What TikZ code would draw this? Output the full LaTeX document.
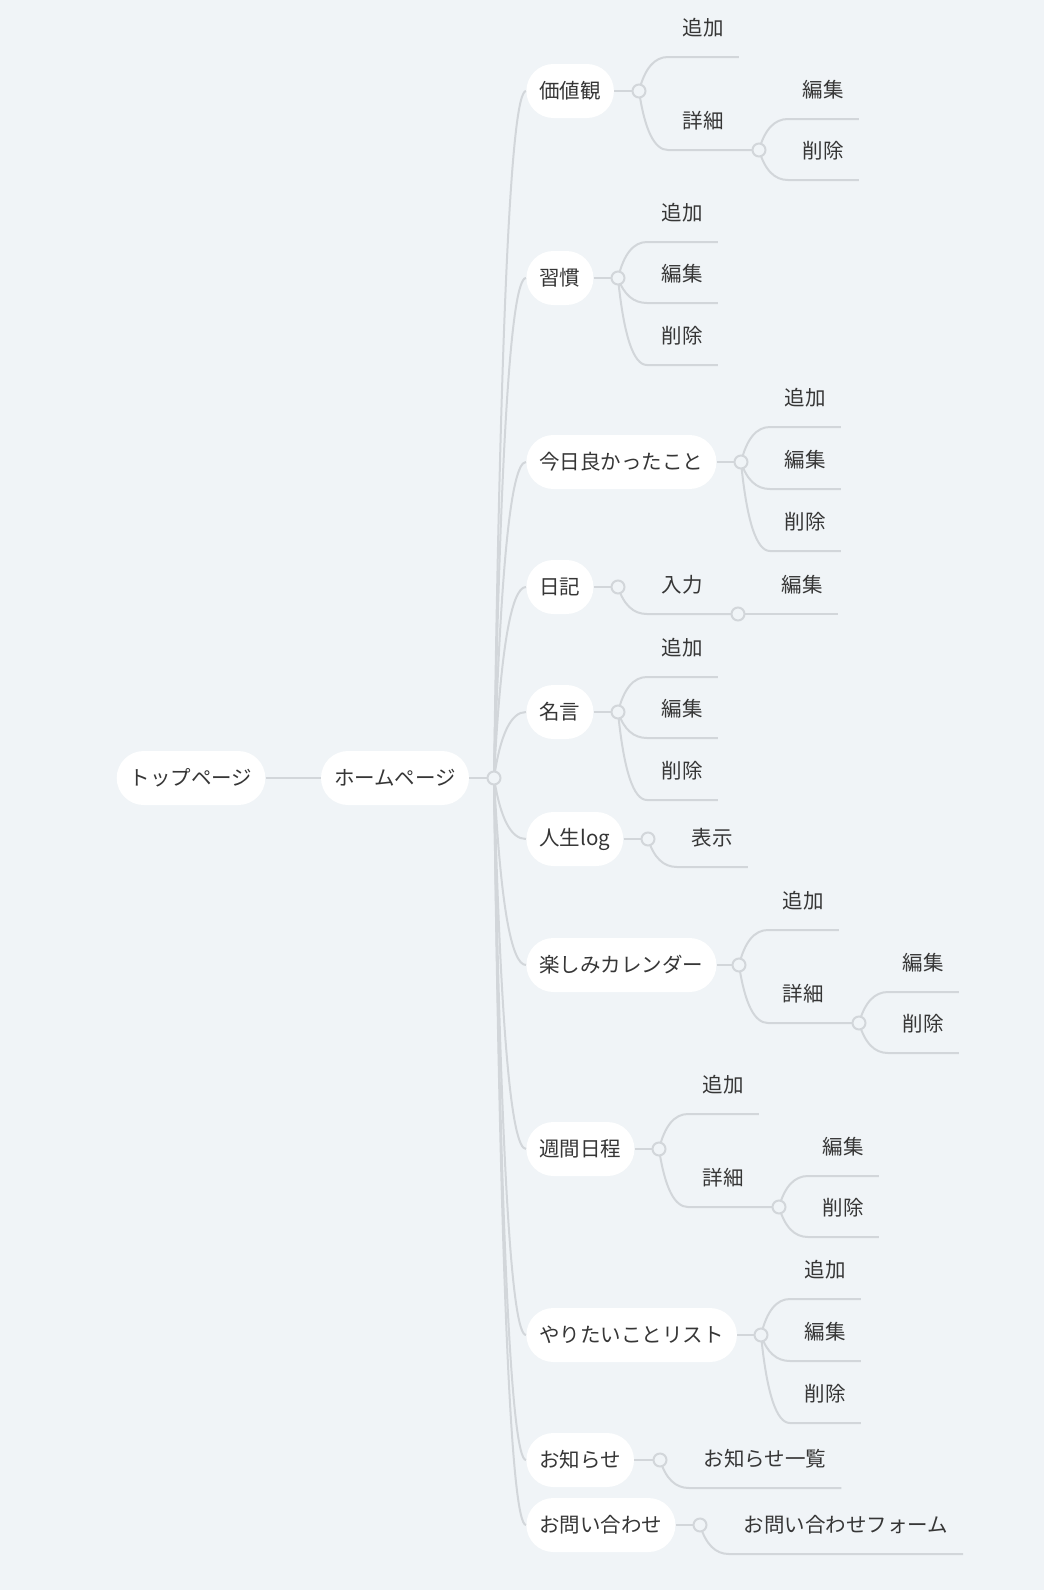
\documentclass[tikz,border=0pt]{standalone}
\usepackage{fontspec}
\setmainfont{Noto Sans CJK JP}
\usetikzlibrary{calc}
\definecolor{bgcolor}{HTML}{F0F4F7}
\definecolor{linecolor}{HTML}{D2D6DA}
\definecolor{textcolor}{HTML}{363636}

\begin{document}
\begin{tikzpicture}[x=0.5pt, y=-0.5pt, font=\fontsize{10.25pt}{12pt}\selectfont, text=textcolor]
  \tikzstyle{topic}=[fill=white, rounded corners=13.5pt, minimum height=27pt, inner xsep=6.5pt, inner ysep=0pt]
  \tikzstyle{leaf}=[minimum height=28.5pt, minimum width=35pt, inner xsep=7.25pt, inner ysep=0pt, anchor=south west]
  \tikzstyle{hub}=[circle, draw=linecolor, fill=bgcolor, line width=1pt, minimum size=6.5pt, inner sep=0pt]
  \tikzstyle{link}=[draw=linecolor, line width=1pt]
  \tikzstyle{branch}=[to path={let \p1=(\tikztostart), \p2=(\tikztotarget) in
      .. controls ({\x1+0.2*(\x2-\x1)}, {\y1+0.6667*(\y2-\y1)}) and ({\x2-0.4667*(\x2-\x1)}, \y2) .. (\tikztotarget)}]

  \fill[bgcolor] (0,0) rectangle (1044,1590);
  \useasboundingbox (0,0) rectangle (1044,1590);

  \node[topic] (TopPage) at (191, 778) {トップページ};

  \node[topic] (HomePage) at (395, 778) {ホームページ};

  \coordinate (HomeHub) at (494, 778);

  \node[topic, anchor=west] (Values) at (526, 91) {価値観};
  \node[topic, anchor=west] (Habits) at (526, 278) {習慣};
  \node[topic, anchor=west] (GoodThings) at (526, 462) {今日良かったこと};
  \node[topic, anchor=west] (Diary) at (526, 587) {日記};
  \node[topic, anchor=west] (Quotes) at (526, 712) {名言};
  \node[topic, anchor=west] (LifeLog) at (526, 839) {人生log};
  \node[topic, anchor=west] (Calendar) at (526, 965) {楽しみカレンダー};
  \node[topic, anchor=west] (Weekly) at (526, 1149) {週間日程};
  \node[topic, anchor=west] (WishList) at (526, 1335) {やりたいことリスト};
  \node[topic, anchor=west] (News) at (526, 1460) {お知らせ};
  \node[topic, anchor=west] (Contact) at (526, 1525) {お問い合わせ};

  \coordinate (ValuesHub) at (639, 91);
  \coordinate (HabitsHub) at (618, 278);
  \coordinate (GoodThingsHub) at (741, 462);
  \coordinate (DiaryHub) at (618, 587);
  \coordinate (QuotesHub) at (618, 712);
  \coordinate (LifeLogHub) at (648, 839);
  \coordinate (CalendarHub) at (739, 965);
  \coordinate (WeeklyHub) at (659, 1149);
  \coordinate (WishListHub) at (761, 1335);
  \coordinate (NewsHub) at (660, 1460);
  \coordinate (ContactHub) at (700, 1525);

  \node[leaf] (ValuesAdd) at (668, 57) {追加};
  \node[leaf] (ValuesDetail) at (668, 150) {詳細};
  \coordinate (ValuesDetailHub) at (759, 150);
  \node[leaf] (ValuesEdit) at (788, 119) {編集};
  \node[leaf] (ValuesDelete) at (788, 180) {削除};

  \node[leaf] (HabitsAdd) at (647, 242) {追加};
  \node[leaf] (HabitsEdit) at (647, 303) {編集};
  \node[leaf] (HabitsDelete) at (647, 365) {削除};

  \node[leaf] (GoodThingsAdd) at (770, 427) {追加};
  \node[leaf] (GoodThingsEdit) at (770, 489) {編集};
  \node[leaf] (GoodThingsDelete) at (770, 551) {削除};

  \node[leaf] (DiaryInput) at (647, 614) {入力};
  \coordinate (DiaryInputHub) at (738, 614);
  \node[leaf] (DiaryEdit) at (767, 614) {編集};

  \node[leaf] (QuotesAdd) at (647, 677) {追加};
  \node[leaf] (QuotesEdit) at (647, 738) {編集};
  \node[leaf] (QuotesDelete) at (647, 800) {削除};

  \node[leaf] (LifeLogView) at (677, 867) {表示};

  \node[leaf] (CalendarAdd) at (768, 930) {追加};
  \node[leaf] (CalendarDetail) at (768, 1023) {詳細};
  \coordinate (CalendarDetailHub) at (859, 1023);
  \node[leaf] (CalendarEdit) at (888, 992) {編集};
  \node[leaf] (CalendarDelete) at (888, 1053) {削除};

  \node[leaf] (WeeklyAdd) at (688, 1114) {追加};
  \node[leaf] (WeeklyDetail) at (688, 1207) {詳細};
  \coordinate (WeeklyDetailHub) at (779, 1207);
  \node[leaf] (WeeklyEdit) at (808, 1176) {編集};
  \node[leaf] (WeeklyDelete) at (808, 1237) {削除};

  \node[leaf] (WishListAdd) at (790, 1299) {追加};
  \node[leaf] (WishListEdit) at (790, 1361) {編集};
  \node[leaf] (WishListDelete) at (790, 1423) {削除};

  \node[leaf] (NewsList) at (689, 1488) {お知らせ一覧};

  \node[leaf] (ContactForm) at (729, 1554) {お問い合わせフォーム};

  \draw[link] (TopPage) -- (HomePage);
  \draw[link] (HomePage) -- (HomeHub);

  \draw[link] (HomeHub) to[branch] (Values.west);
  \draw[link] (HomeHub) to[branch] (Habits.west);
  \draw[link] (HomeHub) to[branch] (GoodThings.west);
  \draw[link] (HomeHub) to[branch] (Diary.west);
  \draw[link] (HomeHub) to[branch] (Quotes.west);
  \draw[link] (HomeHub) to[branch] (LifeLog.west);
  \draw[link] (HomeHub) to[branch] (Calendar.west);
  \draw[link] (HomeHub) to[branch] (Weekly.west);
  \draw[link] (HomeHub) to[branch] (WishList.west);
  \draw[link] (HomeHub) to[branch] (News.west);
  \draw[link] (HomeHub) to[branch] (Contact.west);

  \draw[link] (Values) -- (ValuesHub);
  \draw[link] (Habits) -- (HabitsHub);
  \draw[link] (GoodThings) -- (GoodThingsHub);
  \draw[link] (Diary) -- (DiaryHub);
  \draw[link] (Quotes) -- (QuotesHub);
  \draw[link] (LifeLog) -- (LifeLogHub);
  \draw[link] (Calendar) -- (CalendarHub);
  \draw[link] (Weekly) -- (WeeklyHub);
  \draw[link] (WishList) -- (WishListHub);
  \draw[link] (News) -- (NewsHub);
  \draw[link] (Contact) -- (ContactHub);

  \draw[link] (ValuesHub) to[branch] (ValuesAdd.south west) -- (ValuesAdd.south east);
  \draw[link] (ValuesHub) to[branch] (ValuesDetail.south west) -- (ValuesDetail.south east) -- (ValuesDetailHub);
  \draw[link] (ValuesDetailHub) to[branch] (ValuesEdit.south west) -- (ValuesEdit.south east);
  \draw[link] (ValuesDetailHub) to[branch] (ValuesDelete.south west) -- (ValuesDelete.south east);

  \draw[link] (HabitsHub) to[branch] (HabitsAdd.south west) -- (HabitsAdd.south east);
  \draw[link] (HabitsHub) to[branch] (HabitsEdit.south west) -- (HabitsEdit.south east);
  \draw[link] (HabitsHub) to[branch] (HabitsDelete.south west) -- (HabitsDelete.south east);

  \draw[link] (GoodThingsHub) to[branch] (GoodThingsAdd.south west) -- (GoodThingsAdd.south east);
  \draw[link] (GoodThingsHub) to[branch] (GoodThingsEdit.south west) -- (GoodThingsEdit.south east);
  \draw[link] (GoodThingsHub) to[branch] (GoodThingsDelete.south west) -- (GoodThingsDelete.south east);

  \draw[link] (DiaryHub) to[branch] (DiaryInput.south west) -- (DiaryInput.south east) -- (DiaryInputHub);
  \draw[link] (DiaryInputHub) -- (DiaryEdit.south west) -- (DiaryEdit.south east);

  \draw[link] (QuotesHub) to[branch] (QuotesAdd.south west) -- (QuotesAdd.south east);
  \draw[link] (QuotesHub) to[branch] (QuotesEdit.south west) -- (QuotesEdit.south east);
  \draw[link] (QuotesHub) to[branch] (QuotesDelete.south west) -- (QuotesDelete.south east);

  \draw[link] (LifeLogHub) to[branch] (LifeLogView.south west) -- (LifeLogView.south east);

  \draw[link] (CalendarHub) to[branch] (CalendarAdd.south west) -- (CalendarAdd.south east);
  \draw[link] (CalendarHub) to[branch] (CalendarDetail.south west) -- (CalendarDetail.south east) -- (CalendarDetailHub);
  \draw[link] (CalendarDetailHub) to[branch] (CalendarEdit.south west) -- (CalendarEdit.south east);
  \draw[link] (CalendarDetailHub) to[branch] (CalendarDelete.south west) -- (CalendarDelete.south east);

  \draw[link] (WeeklyHub) to[branch] (WeeklyAdd.south west) -- (WeeklyAdd.south east);
  \draw[link] (WeeklyHub) to[branch] (WeeklyDetail.south west) -- (WeeklyDetail.south east) -- (WeeklyDetailHub);
  \draw[link] (WeeklyDetailHub) to[branch] (WeeklyEdit.south west) -- (WeeklyEdit.south east);
  \draw[link] (WeeklyDetailHub) to[branch] (WeeklyDelete.south west) -- (WeeklyDelete.south east);

  \draw[link] (WishListHub) to[branch] (WishListAdd.south west) -- (WishListAdd.south east);
  \draw[link] (WishListHub) to[branch] (WishListEdit.south west) -- (WishListEdit.south east);
  \draw[link] (WishListHub) to[branch] (WishListDelete.south west) -- (WishListDelete.south east);

  \draw[link] (NewsHub) to[branch] (NewsList.south west) -- (NewsList.south east);

  \draw[link] (ContactHub) to[branch] (ContactForm.south west) -- (ContactForm.south east);

  \foreach \h in {HomeHub, ValuesHub, ValuesDetailHub, HabitsHub, GoodThingsHub, DiaryHub, DiaryInputHub, QuotesHub, LifeLogHub, CalendarHub, CalendarDetailHub, WeeklyHub, WeeklyDetailHub, WishListHub, NewsHub, ContactHub}
    \node[hub] at (\h) {};

\end{tikzpicture}
\end{document}
